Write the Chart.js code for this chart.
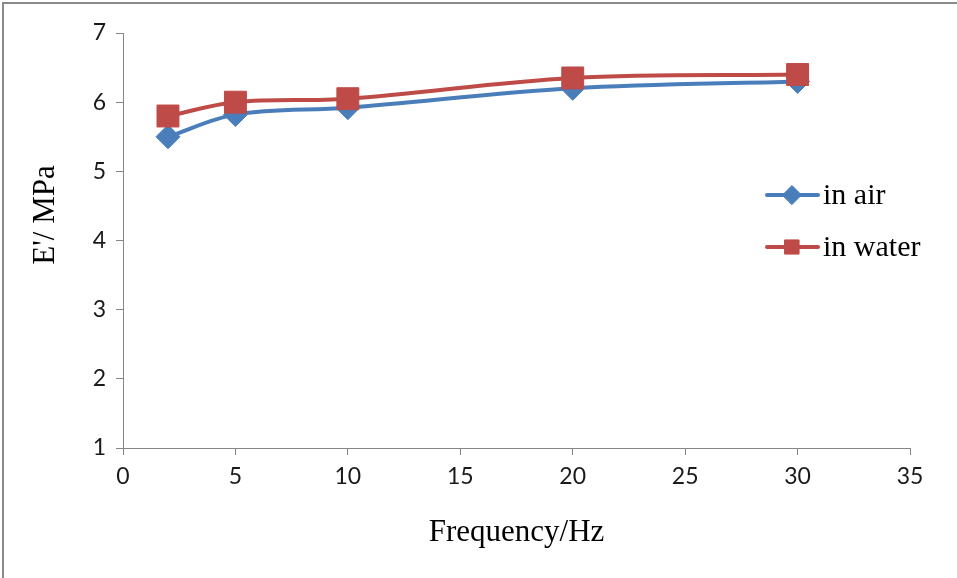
<!DOCTYPE html>
<html>
<head>
<meta charset="utf-8">
<script src="https://cdn.jsdelivr.net/npm/chart.js@4/dist/chart.umd.min.js"></script>
<style>
  html, body { margin: 0; padding: 0; background: #ffffff; }
  #wrap { position: relative; width: 957px; height: 578px; overflow: hidden; }
  #frame { position: absolute; left: 2px; top: 2px; width: 955px; height: 576px;
           border-top: 2px solid #8a8a8a; border-left: 2px solid #8a8a8a; box-sizing: border-box; pointer-events: none; }
  canvas { position: absolute; left: 0; top: 0; }
</style>
</head>
<body>
<div id="wrap">
  <canvas id="c" width="957" height="578"></canvas>
  <div id="frame"></div>
</div>
<script>
// Storage modulus versus loading frequency
const frequencies = [2, 5, 10, 20, 30];
const modulusInAir = [5.5, 5.82, 5.92, 6.2, 6.3];
const modulusInWater = [5.8, 6.0, 6.05, 6.35, 6.4];
const seriesNames = ['in air', 'in water'];
const xTicks = [0, 5, 10, 15, 20, 25, 30, 35];
const yTicks = [1, 2, 3, 4, 5, 6, 7];
const xTitle = 'Frequency/Hz';
const yTitle = "E'/ MPa";

const BLUE = '#4a7ebb';
const RED = '#be4b48';
const AXIS = '#868686';
const SERIF = '"Liberation Serif", "Times New Roman", serif';

const toPoints = ys => frequencies.map((f, i) => ({ x: f, y: ys[i] }));

// Axis titles and a line+marker legend drawn on top of the chart
const decorations = {
  id: 'decorations',
  afterDraw(chart) {
    const ctx = chart.ctx;
    const area = chart.chartArea;
    ctx.save();
    ctx.fillStyle = '#000';
    ctx.font = '31px ' + SERIF;
    ctx.textAlign = 'center';
    ctx.textBaseline = 'middle';
    ctx.fillText(xTitle, (area.left + area.right) / 2, 533);
    ctx.translate(46, 215);
    ctx.rotate(-Math.PI / 2);
    ctx.fillText(yTitle, 0, 0);
    ctx.restore();

    const rows = [195, 247];
    chart.data.datasets.forEach((ds, i) => {
      const y = rows[i];
      ctx.save();
      ctx.strokeStyle = ds.borderColor;
      ctx.lineWidth = 4;
      ctx.lineCap = 'round';
      ctx.beginPath();
      ctx.moveTo(767, y);
      ctx.lineTo(818, y);
      ctx.stroke();
      ctx.fillStyle = ds.pointBackgroundColor;
      ctx.strokeStyle = ds.pointBackgroundColor;
      ctx.lineWidth = 1;
      Chart.helpers.drawPoint(ctx, {
        pointStyle: ds.pointStyle,
        radius: ds.pointStyle === 'rect' ? 10 : 9.5,
        borderWidth: 1,
        rotation: 0
      }, 792, y);
      ctx.fillStyle = '#000';
      ctx.font = '30px ' + SERIF;
      ctx.textAlign = 'left';
      ctx.textBaseline = 'middle';
      ctx.fillText(ds.label, 823, y + 1);
      ctx.restore();
    });
  }
};

new Chart(document.getElementById('c'), {
  type: 'line',
  data: {
    datasets: [
      {
        label: seriesNames[0],
        data: toPoints(modulusInAir),
        borderColor: BLUE,
        backgroundColor: BLUE,
        pointBackgroundColor: BLUE,
        pointBorderColor: BLUE,
        borderWidth: 4,
        pointStyle: 'rectRot',
        pointRadius: 12,
        pointBorderWidth: 1,
        tension: 0.35,
        order: 2
      },
      {
        label: seriesNames[1],
        data: toPoints(modulusInWater),
        borderColor: RED,
        backgroundColor: RED,
        pointBackgroundColor: RED,
        pointBorderColor: RED,
        borderWidth: 4,
        pointStyle: 'rect',
        pointRadius: 15.5,
        pointBorderWidth: 1,
        tension: 0.35,
        order: 1
      }
    ]
  },
  options: {
    responsive: false,
    animation: false,
    devicePixelRatio: 1,
    layout: { padding: { left: 0, top: 33, right: 47, bottom: 0 } },
    plugins: { legend: { display: false }, tooltip: { enabled: false } },
    scales: {
      x: {
        type: 'linear',
        min: xTicks[0],
        max: xTicks[xTicks.length - 1],
        afterBuildTicks: s => { s.ticks = xTicks.map(v => ({ value: v })); },
        afterFit: s => { s.height = 130; },
        grid: { drawOnChartArea: false, drawTicks: true, tickLength: 7, color: AXIS, lineWidth: 1 },
        border: { display: true, color: AXIS, width: 1 },
        ticks: { color: '#1a1a1a', font: { family: 'Lato', size: 23 }, padding: 8, maxRotation: 0 }
      },
      y: {
        type: 'linear',
        min: yTicks[0],
        max: yTicks[yTicks.length - 1],
        afterBuildTicks: s => { s.ticks = yTicks.map(v => ({ value: v })); },
        afterFit: s => { s.width = 123; },
        grid: { drawOnChartArea: false, drawTicks: true, tickLength: 7, color: AXIS, lineWidth: 1 },
        border: { display: true, color: AXIS, width: 1 },
        ticks: { color: '#1a1a1a', font: { family: 'Lato', size: 23 }, padding: 10 }
      }
    }
  },
  plugins: [decorations]
});
</script>
</body>
</html>
